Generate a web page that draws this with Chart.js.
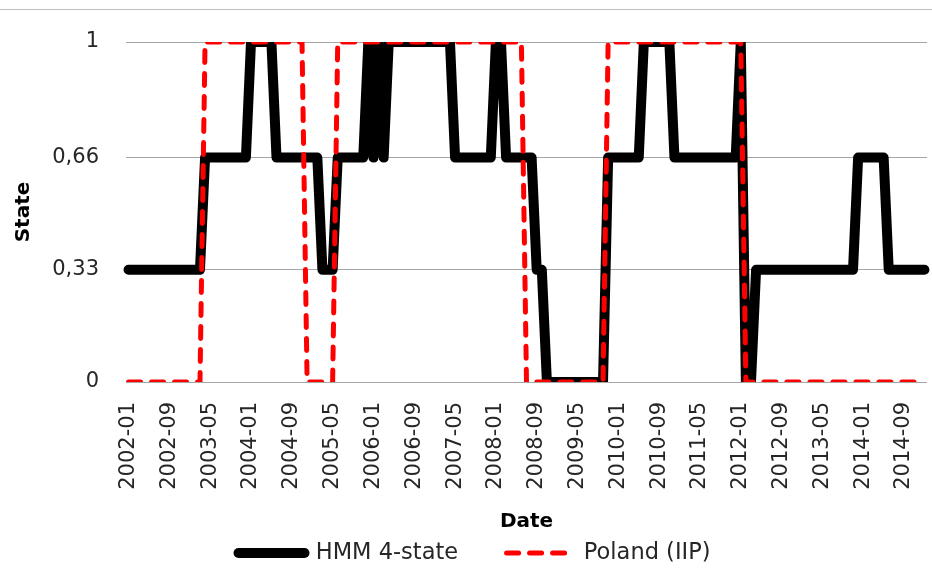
<!DOCTYPE html>
<html>
<head>
<meta charset="utf-8">
<script src="https://cdn.jsdelivr.net/npm/chart.js@4.4.1/dist/chart.umd.min.js"></script>
<style>
  html, body { margin: 0; padding: 0; background: #ffffff; }
  #wrap { width: 932px; height: 570px; }
</style>
</head>
<body>
<div id="wrap"><canvas id="c" width="932" height="570"></canvas></div>
<script>
// ---- data (monthly, 2002-01 .. 2015-01) ----
const hmmState = [
  0.33,0.33,0.33,0.33,0.33,0.33,0.33,0.33,0.33,0.33,0.33,0.33, // 2002
  0.33,0.33,0.33,0.66,0.66,0.66,0.66,0.66,0.66,0.66,0.66,0.66, // 2003
  1,1,1,1,1,0.66,0.66,0.66,0.66,0.66,0.66,0.66,                 // 2004
  0.66,0.66,0.33,0.33,0.33,0.66,0.66,0.66,0.66,0.66,0.66,1,     // 2005
  0.66,1,0.66,1,1,1,1,1,1,1,1,1,                                // 2006
  1,1,1,1,0.66,0.66,0.66,0.66,0.66,0.66,0.66,0.66,              // 2007
  1,1,0.66,0.66,0.66,0.66,0.66,0.66,0.33,0.33,0,0,              // 2008
  0,0,0,0,0,0,0,0,0,0,0.66,0.66,                                // 2009
  0.66,0.66,0.66,0.66,0.66,1,1,1,1,1,1,0.66,                    // 2010
  0.66,0.66,0.66,0.66,0.66,0.66,0.66,0.66,0.66,0.66,0.66,0.66,  // 2011
  1,0,0,0.33,0.33,0.33,0.33,0.33,0.33,0.33,0.33,0.33,           // 2012
  0.33,0.33,0.33,0.33,0.33,0.33,0.33,0.33,0.33,0.33,0.33,0.66,  // 2013
  0.66,0.66,0.66,0.66,0.66,0.33,0.33,0.33,0.33,0.33,0.33,0.33,  // 2014
  0.33                                                          // 2015
];
const polandIIP = [
  0,0,0,0,0,0,0,0,0,0,0,0,   // 2002
  0,0,0,1,1,1,1,1,1,1,1,1,   // 2003
  1,1,1,1,1,1,1,1,1,1,1,0,   // 2004
  0,0,0,0,0,1,1,1,1,1,1,1,   // 2005
  1,1,1,1,1,1,1,1,1,1,1,1,   // 2006
  1,1,1,1,1,1,1,1,1,1,1,1,   // 2007
  1,1,1,1,1,1,0,0,0,0,0,0,   // 2008
  0,0,0,0,0,0,0,0,0,0,1,1,   // 2009
  1,1,1,1,1,1,1,1,1,1,1,1,   // 2010
  1,1,1,1,1,1,1,1,1,1,1,1,   // 2011
  1,0,0,0,0,0,0,0,0,0,0,0,   // 2012
  0,0,0,0,0,0,0,0,0,0,0,0,   // 2013
  0,0,0,0,0,0,0,0,0,0,0,0,   // 2014
  0                          // 2015
];
const years = [2002,2003,2004,2005,2006,2007,2008,2009,2010,2011,2012,2013,2014,2015];
const months = ['01','02','03','04','05','06','07','08','09','10','11','12'];
const categories = [];
for (const y of years) for (const m of months) {
  if (categories.length < hmmState.length) categories.push(y + '-' + m);
}
const tickLabels = ['2002-01','2002-09','2003-05','2004-01','2004-09','2005-05','2006-01',
  '2006-09','2007-05','2008-01','2008-09','2009-05','2010-01','2010-09','2011-05',
  '2012-01','2012-09','2013-05','2014-01','2014-09'];
const yTicks = [0, 0.33, 0.66, 1];
const yTickLabels = ['0', '0,33', '0,66', '1'];

const FONT = 'DejaVu Sans';

const topRule = {
  id: 'topRule',
  beforeDraw(chart) {
    const ctx = chart.ctx;
    ctx.save();
    ctx.strokeStyle = '#bfbfbf';
    ctx.lineWidth = 1;
    ctx.beginPath();
    ctx.moveTo(0, 9.5);
    ctx.lineTo(chart.width, 9.5);
    ctx.stroke();
    ctx.restore();
  }
};

new Chart(document.getElementById('c'), {
  type: 'line',
  data: {
    labels: categories,
    datasets: [
      {
        label: 'Poland (IIP)',
        data: polandIIP,
        borderColor: '#ff0000',
        backgroundColor: '#ff0000',
        borderWidth: 5,
        borderDash: [12, 11],
        borderCapStyle: 'round',
        borderJoinStyle: 'round',
        pointRadius: 0,
        tension: 0,
        fill: false
      },
      {
        label: 'HMM 4-state',
        data: hmmState,
        borderColor: '#000000',
        backgroundColor: '#000000',
        borderWidth: 10,
        borderCapStyle: 'round',
        borderJoinStyle: 'round',
        pointRadius: 0,
        tension: 0,
        fill: false
      }
    ]
  },
  options: {
    responsive: false,
    animation: false,
    devicePixelRatio: 1,
    layout: { padding: { left: 22, right: 5, top: 42, bottom: 0 } },
    plugins: {
      tooltip: { enabled: false },
      legend: {
        position: 'bottom',
        maxHeight: 76.75,
        labels: {
          usePointStyle: true,
          pointStyle: 'line',
          pointStyleWidth: 66,
          padding: 48.5,
          color: '#262626',
          font: { family: FONT, size: 22.5 },
          sort: (a, b) => b.datasetIndex - a.datasetIndex,
          generateLabels: (chart) => {
            const items = Chart.defaults.plugins.legend.labels.generateLabels(chart);
            items.forEach((it) => {
              const ds = chart.data.datasets[it.datasetIndex];
              it.strokeStyle = ds.borderColor;
              it.fillStyle = ds.borderColor;
              it.lineWidth = ds.borderWidth;
              it.lineDash = ds.borderDash || [];
              it.lineCap = 'round';
              it.pointStyle = 'line';
            });
            return items;
          }
        }
      }
    },
    scales: {
      x: {
        type: 'category',
        offset: true,
        grid: { display: false, drawTicks: false },
        border: { display: false },
        afterFit: (s) => { s.height = 111.25; s.paddingLeft = 0; s.paddingRight = 0; },
        ticks: {
          autoSkip: false,
          maxRotation: 90,
          minRotation: 90,
          padding: 20,
          color: '#262626',
          font: { family: FONT, size: 21 },
          callback: function (val, idx) {
            const lab = categories[idx];
            return tickLabels.includes(lab) ? lab : '';
          }
        },
        title: {
          display: true,
          text: 'Date',
          color: '#000000',
          font: { family: FONT, size: 20, weight: 'bold' },
          padding: { top: 0, bottom: -40.45 }
        }
      },
      y: {
        min: 0,
        max: 1,
        afterBuildTicks: (axis) => { axis.ticks = yTicks.map(v => ({ value: v })); },
        afterFit: (s) => { s.width = 104; s.paddingTop = 0; s.paddingBottom = 0; },
        grid: { color: '#a6a6a6', lineWidth: 1, drawTicks: false },
        border: { display: false },
        ticks: {
          padding: 27,
          color: '#262626',
          font: { family: FONT, size: 21 },
          callback: (v) => {
            const k = yTicks.indexOf(v);
            return k >= 0 ? yTickLabels[k] : '';
          }
        },
        title: {
          display: true,
          text: 'State',
          color: '#000000',
          font: { family: FONT, size: 20, weight: 'bold' },
          padding: { top: -10, bottom: 16 }
        }
      }
    }
  },
  plugins: [topRule]
});
</script>
</body>
</html>
